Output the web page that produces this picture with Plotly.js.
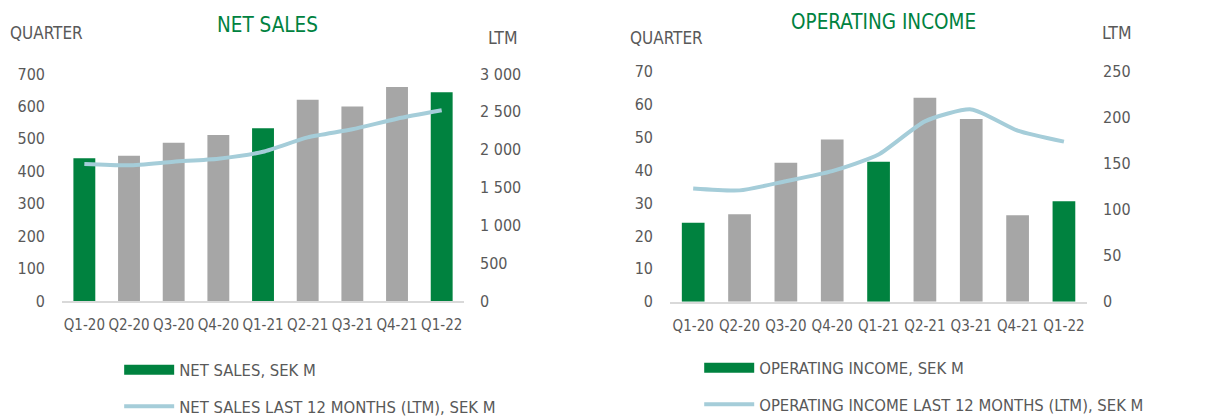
<!DOCTYPE html>
<html>
<head>
<meta charset="utf-8">
<script src="https://cdn.plot.ly/plotly-3.0.1.min.js"></script>
<style>html,body{margin:0;padding:0;background:#fff;}#chart{width:1216px;height:416px;}</style>
</head>
<body>
<div id="chart"></div>
<script>
// ---- data ----
const quarters = ["Q1-20","Q2-20","Q3-20","Q4-20","Q1-21","Q2-21","Q3-21","Q4-21","Q1-22"];
const netSalesQuarter = [440, 448, 488, 512, 533, 621, 600, 660, 644];
const netSalesLTM = [1810, 1793, 1841, 1881, 1973, 2163, 2269, 2409, 2520];
const opIncomeQuarter = [24.0, 26.6, 42.3, 49.4, 42.6, 62.1, 55.6, 26.3, 30.6];
const opIncomeLTM = [123, 121, 131, 142, 160, 196, 209, 186, 174];
const netSalesTickVals = [0, 100, 200, 300, 400, 500, 600, 700];
const netSalesLTMTickVals = [0, 500, 1000, 1500, 2000, 2500, 3000];
const opTickVals = [0, 10, 20, 30, 40, 50, 60, 70];
const opLTMTickVals = [0, 50, 100, 150, 200, 250];

// ---- styles ----
const GREEN = "#00823F", GREY = "#A6A6A6", BLUE = "#A5CDD9", TXT = "#595959";
const FONT = "DejaVu Sans Condensed, DejaVu Sans, sans-serif";
const barColors = quarters.map(q => q.startsWith("Q1") ? GREEN : GREY);

// legend-only swatch trace for the bar series (wide rectangle like the original)
function barKey(name, legend, group) {
  return {type:"scatter", mode:"lines", x:[null], y:[null], xaxis: legend === "legend" ? "x" : "x2",
    yaxis: legend === "legend" ? "y" : "y3", line:{color:GREEN, width:11}, name:name,
    legend:legend, legendgroup:group, hoverinfo:"skip"};
}

const traces = [
  {type:"bar", x:quarters, y:netSalesQuarter, xaxis:"x", yaxis:"y",
   marker:{color:barColors}, width:0.49, name:"NET SALES, SEK M", showlegend:false,
   hoverinfo:"skip"},
  barKey("NET SALES, SEK M", "legend", "a"),
  {type:"scatter", mode:"lines", x:quarters, y:netSalesLTM, xaxis:"x", yaxis:"y2",
   line:{color:BLUE, width:4, shape:"spline", smoothing:0.6},
   name:"NET SALES LAST 12 MONTHS (LTM), SEK M", legend:"legend", legendgroup:"b", hoverinfo:"skip"},
  {type:"bar", x:quarters, y:opIncomeQuarter, xaxis:"x2", yaxis:"y3",
   marker:{color:barColors}, width:0.49, name:"OPERATING INCOME, SEK M", showlegend:false,
   hoverinfo:"skip"},
  barKey("OPERATING INCOME, SEK M", "legend2", "c"),
  {type:"scatter", mode:"lines", x:quarters, y:opIncomeLTM, xaxis:"x2", yaxis:"y4",
   line:{color:BLUE, width:4, shape:"spline", smoothing:0.6},
   name:"OPERATING INCOME LAST 12 MONTHS (LTM), SEK M", legend:"legend2", legendgroup:"d", hoverinfo:"skip"}
];

const tickFont = {family:FONT, size:16, color:TXT};
const yBase = {showgrid:false, zeroline:false, showline:false, ticks:"", tickfont:tickFont,
  fixedrange:true};
const xBase = {showgrid:false, zeroline:false, showline:true, linecolor:"#D9D9D9", linewidth:2,
  ticks:"", tickfont:{family:FONT, size:15, color:TXT}, type:"category", range:[-0.5, 8.5],
  tickangle:0, ticklabelstandoff:9, fixedrange:true};

const legendBase = {xanchor:"left", yanchor:"middle", orientation:"v",
  font:{family:FONT, size:16.5, color:TXT}, itemwidth:50, tracegroupgap:12,
  bgcolor:"rgba(0,0,0,0)", traceorder:"grouped"};

const layout = {
  width:1216, height:416, margin:{l:0, r:0, t:0, b:0, autoexpand:false},
  paper_bgcolor:"#fff", plot_bgcolor:"rgba(0,0,0,0)",
  separators:", ",
  font:{family:FONT, color:TXT},
  xaxis:Object.assign({}, xBase, {domain:[0.051, 0.3816], anchor:"y"}),
  yaxis:Object.assign({}, yBase, {domain:[0.2764, 0.8221], range:[0, 700], tickvals:netSalesTickVals,
    anchor:"x", ticklabelstandoff:16}),
  yaxis2:Object.assign({}, yBase, {overlaying:"y", side:"right", range:[0, 3000],
    tickvals:netSalesLTMTickVals, tickformat:",d", anchor:"x", ticklabelstandoff:15}),
  xaxis2:Object.assign({}, xBase, {domain:[0.551, 0.894], anchor:"y3"}),
  yaxis3:Object.assign({}, yBase, {domain:[0.2747, 0.8277], range:[0, 70], tickvals:opTickVals,
    anchor:"x2", ticklabelstandoff:16}),
  yaxis4:Object.assign({}, yBase, {overlaying:"y3", side:"right", range:[0, 250],
    tickvals:opLTMTickVals, anchor:"x2", ticklabelstandoff:15}),
  legend:Object.assign({}, legendBase, {x:0.098, y:1-388/416}),
  legend2:Object.assign({}, legendBase, {x:0.575, y:1-386/416}),
  annotations:[
    {text:"NET SALES", xref:"paper", yref:"paper", x:267/1216, y:1-25/416, xanchor:"center", yanchor:"middle",
     showarrow:false, font:{family:FONT, size:20.5, color:GREEN}},
    {text:"OPERATING INCOME", xref:"paper", yref:"paper", x:883/1216, y:1-22/416, xanchor:"center", yanchor:"middle",
     showarrow:false, font:{family:FONT, size:20.5, color:GREEN}},
    {text:"QUARTER", xref:"paper", yref:"paper", x:8/1216, y:1-33/416, xanchor:"left", yanchor:"middle",
     showarrow:false, font:{family:FONT, size:17, color:TXT}},
    {text:"LTM", xref:"paper", yref:"paper", x:486/1216, y:1-38/416, xanchor:"left", yanchor:"middle",
     showarrow:false, font:{family:FONT, size:17.5, color:TXT}},
    {text:"QUARTER", xref:"paper", yref:"paper", x:628/1216, y:1-38/416, xanchor:"left", yanchor:"middle",
     showarrow:false, font:{family:FONT, size:17, color:TXT}},
    {text:"LTM", xref:"paper", yref:"paper", x:1100/1216, y:1-33/416, xanchor:"left", yanchor:"middle",
     showarrow:false, font:{family:FONT, size:17.5, color:TXT}}
  ]
};

Plotly.newPlot("chart", traces, layout, {displayModeBar:false, staticPlot:true});
</script>
</body>
</html>
